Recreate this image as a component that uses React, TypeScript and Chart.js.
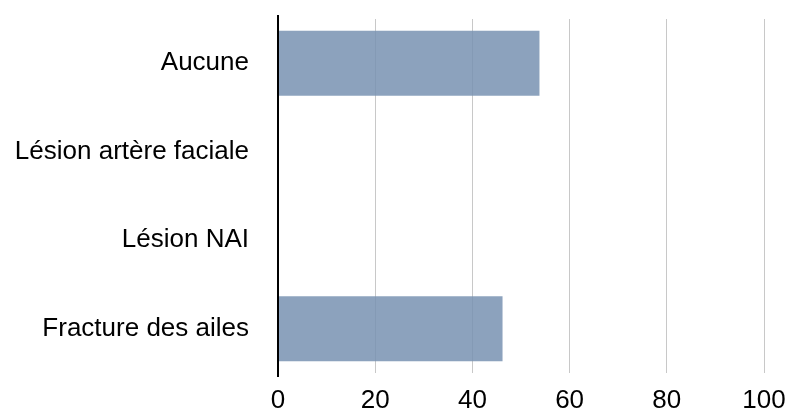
import React, { useEffect, useRef } from "react";
import { Chart, registerables } from "chart.js";

Chart.register(...registerables);

const categories = ["Aucune", "Lésion artère faciale", "Lésion NAI", "Fracture des ailes"];
const values = [53.8, 0, 0, 46.2];
const xTicks = [0, 20, 40, 60, 80, 100];

const FONT = "'Liberation Sans', Arial, Helvetica, sans-serif";

const axisLinePlugin = {
  id: "axisLine",
  afterDatasetsDraw(chart: any) {
    const { ctx, chartArea } = chart;
    const x = chart.scales.x.getPixelForValue(0);
    ctx.save();
    ctx.strokeStyle = "#000";
    ctx.lineWidth = 2;
    ctx.beginPath();
    ctx.moveTo(x, chartArea.top - 4);
    ctx.lineTo(x, chartArea.bottom + 4);
    ctx.stroke();
    ctx.restore();
  },
};

export default function App() {
  const ref = useRef<HTMLCanvasElement | null>(null);

  useEffect(() => {
    if (!ref.current) return;
    const chart = new Chart(ref.current, {
      type: "bar",
      data: {
        labels: categories,
        datasets: [
          {
            data: values,
            backgroundColor: "rgba(120,146,177,0.85)",
            borderWidth: 0,
            barPercentage: 0.92,
            categoryPercentage: 0.8,
          },
        ],
      },
      options: {
        indexAxis: "y",
        animation: false,
        responsive: false,
        maintainAspectRatio: false,
        layout: { padding: { top: 19, right: 25, left: 0, bottom: 0 } },
        plugins: { legend: { display: false }, tooltip: { enabled: false } },
        scales: {
          x: {
            min: 0,
            max: 100,
            afterBuildTicks: (scale: any) => {
              scale.ticks = xTicks.map((v) => ({ value: v }));
            },
            afterFit: (scale: any) => {
              scale.height = 39;
              scale.paddingLeft = 0;
              scale.paddingRight = 0;
            },
            grid: {
              color: (ctx: any) => (ctx.tick && ctx.tick.value === 0 ? "rgba(0,0,0,0)" : "#c8c8c8"),
              lineWidth: 1,
              drawTicks: false,
            },
            border: { display: false },
            ticks: {
              color: "#000",
              font: { family: FONT, size: 26 },
              padding: 12,
              maxRotation: 0,
            },
          },
          y: {
            afterFit: (scale: any) => {
              scale.width = 278;
              scale.paddingTop = 0;
              scale.paddingBottom = 0;
            },
            grid: { display: false, drawTicks: false },
            border: { display: false },
            ticks: {
              color: "#000",
              font: { family: FONT, size: 26 },
              padding: 29,
            },
          },
        },
      },
      plugins: [axisLinePlugin],
    });
    return () => chart.destroy();
  }, []);

  return (
    <div style={{ position: "fixed", left: 0, top: 0, width: 789, height: 412, background: "#fff" }}>
      <canvas ref={ref} width={789} height={412} style={{ display: "block", width: 789, height: 412 }} />
    </div>
  );
}
